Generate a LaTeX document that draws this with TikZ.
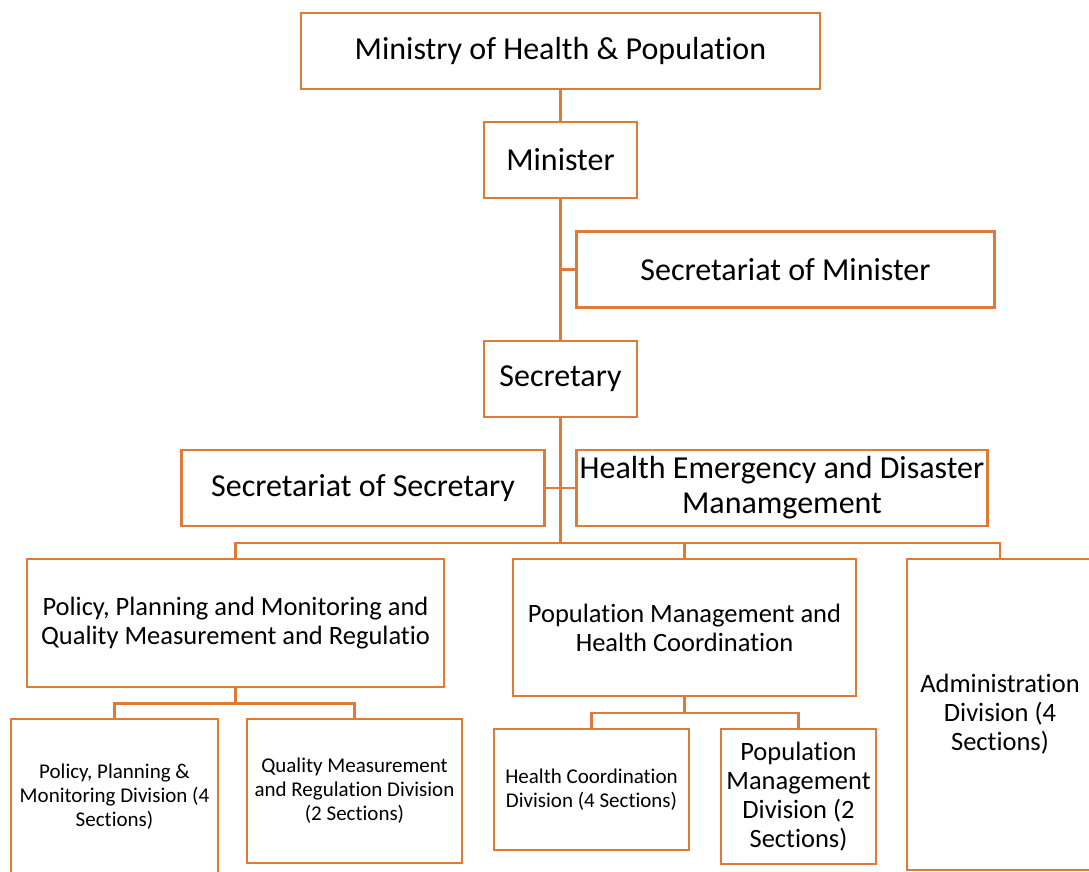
\documentclass[tikz,border=0pt]{standalone}
\usepackage{fontspec}
\setmainfont{Carlito}[Ligatures=NoCommon]
\usepackage{xcolor}
\usepackage{tikz}
\usetikzlibrary{positioning, calc}
\definecolor{orgline}{HTML}{E07A37}
\newcommand{\lvlone}{\fontsize{32}{35}\selectfont}
\newcommand{\lvltwo}{\fontsize{26.5}{29}\selectfont}
\newcommand{\lvlthree}{\fontsize{21}{24}\selectfont}

\begin{document}
\begin{tikzpicture}[x=1pt, y=1pt]
    \tikzstyle{unit} = [rectangle, draw=orgline, fill=white, line width=2.5pt, inner sep=0pt, outer sep=0pt, align=center, text=black]
    \tikzstyle{link} = [draw=orgline, line width=2.5pt]

    \useasboundingbox (0,0) rectangle (1089,871);

    % top of the chain
    \node [unit, font=\lvlone, minimum width=519pt, minimum height=76pt] (ministry) at (560.5,820) {Ministry of Health \& Population};
    \node [unit, font=\lvlone, minimum width=153pt, minimum height=76pt, below=33pt of ministry] (minister) {Minister};
    \node [unit, font=\lvlone, minimum width=153pt, minimum height=76pt, below=143pt of minister] (secretary) {Secretary};

    \coordinate (jmin) at ($(minister.south)!0.5!(secretary.north)$);
    \node [unit, font=\lvlone, minimum width=418pt, minimum height=76pt, right=16pt of jmin] (secmin) {Secretariat of Minister};

    \coordinate (jsec) at ($(secretary.south)+(0,-71pt)$);
    \node [unit, font=\lvlone, minimum width=363pt, minimum height=76pt, left=16pt of jsec] (secsec) {Secretariat of Secretary};
    \node [unit, font=\lvlone, minimum width=411pt, minimum height=76pt, right=16pt of jsec] (hed) {Health Emergency and Disaster\\Manamgement};

    % divisions
    \coordinate (bus) at ($(secretary.south)+(0,-126pt)$);
    \node [unit, font=\lvltwo, minimum width=417pt, minimum height=128pt, below=16pt of bus, xshift=-325pt] (ppmq) {Policy, Planning and Monitoring and\\Quality Measurement and Regulatio};
    \node [unit, font=\lvltwo, minimum width=343pt, minimum height=137pt, below=16pt of bus, xshift=124pt] (pmhc) {Population Management and\\Health Coordination};
    \node [unit, font=\lvltwo, minimum width=186pt, minimum height=311pt, below=16pt of bus, xshift=439.5pt] (admin) {Administration\\Division (4\\Sections)};

    \coordinate (busa) at ($(ppmq.south)+(0,-16.5pt)$);
    \node [unit, font=\lvlthree, minimum width=207pt, minimum height=156pt, below=15.5pt of busa, xshift=-121pt] (ppmd) {Policy, Planning \&\\Monitoring Division (4\\Sections)};
    \node [unit, font=\lvlthree, minimum width=215pt, minimum height=144pt, below=15.5pt of busa, xshift=119pt] (qmrd) {Quality Measurement\\and Regulation Division\\(2 Sections)};

    \coordinate (busb) at ($(pmhc.south)+(0,-17pt)$);
    \node [unit, font=\lvlthree, minimum width=195pt, minimum height=121pt, below=16pt of busb, xshift=-93pt] (hcd) {Health Coordination\\Division (4 Sections)};
    \node [unit, font=\lvltwo, minimum width=155pt, minimum height=135pt, below=16pt of busb, xshift=114pt] (pmd) {Population\\Management\\Division (2\\Sections)};

    \path [link] (ministry) -- (minister);
    \path [link] (minister) -- (secretary);
    \path [link] (jmin) -- (secmin);
    \path [link] (secsec) -- (hed);
    \path [link] (secretary) -- (bus);

    \path [link] (ppmq) |- (bus) -| (admin);
    \path [link] (pmhc) -- (pmhc |- bus);

    \path [link] (ppmq) -- (busa);
    \path [link] (ppmd) |- (busa) -| (qmrd);

    \path [link] (pmhc) -- (busb);
    \path [link] (hcd) |- (busb) -| (pmd);
\end{tikzpicture}
\end{document}
